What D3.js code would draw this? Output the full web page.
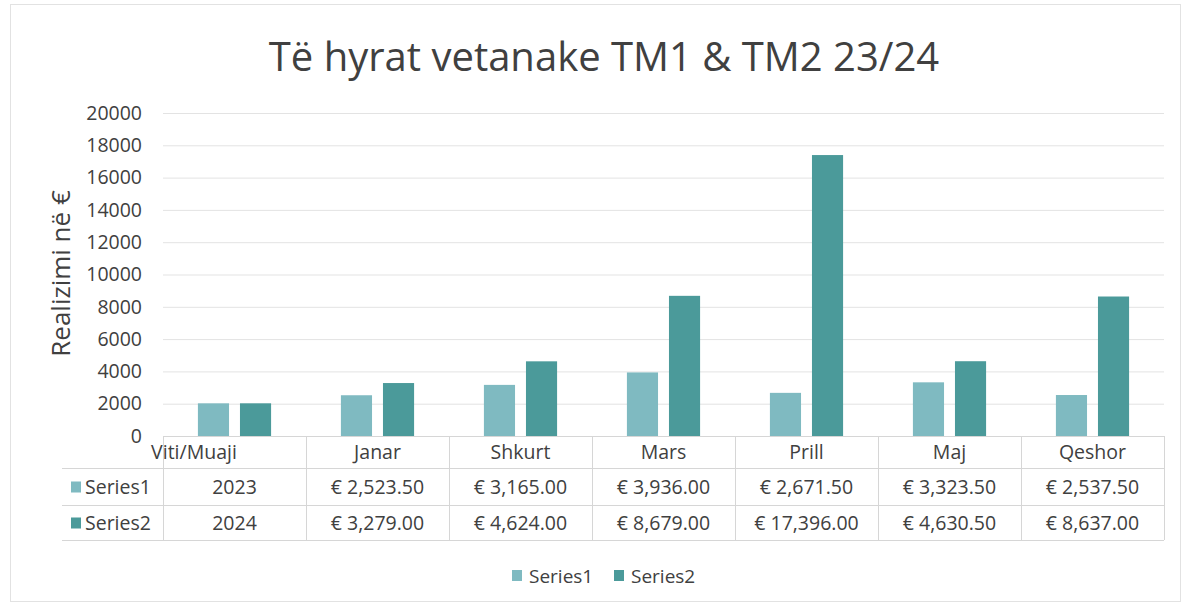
<!DOCTYPE html>
<html><head><meta charset="utf-8">
<script src="https://cdn.jsdelivr.net/npm/d3@7"></script>
<style>body{margin:0;background:#fff}svg{display:block}text{font-family:"Open Sans","Noto Sans",sans-serif;fill:#404040}</style>
</head><body><svg id="c" width="1189" height="609"></svg>
<script>
const categories=["Viti/Muaji","Janar","Shkurt","Mars","Prill","Maj","Qeshor"];
const seriesNames=["Series1","Series2"];
const series1=[2023,2523.5,3165,3936,2671.5,3323.5,2537.5];
const series2=[2024,3279,4624,8679,17396,4630.5,8637];
const tableLabels1=["2023","€ 2,523.50","€ 3,165.00","€ 3,936.00","€ 2,671.50","€ 3,323.50","€ 2,537.50"];
const tableLabels2=["2024","€ 3,279.00","€ 4,624.00","€ 8,679.00","€ 17,396.00","€ 4,630.50","€ 8,637.00"];
const yTicks=[0,2000,4000,6000,8000,10000,12000,14000,16000,18000,20000];
const colors=["#7fbac1","#4b9a9a"];

const svg=d3.select("#c");
const L=163,R=1164,T=113,B=436;
svg.append("rect").attr("x",10.5).attr("y",4.5).attr("width",1170).attr("height",597).attr("fill","none").attr("stroke","#e2e2e2");
const x=d3.scaleBand().domain(categories).range([L,R]);
const y=d3.scaleLinear().domain([0,20000]).range([B,T]);
const x1=d3.scaleBand().domain(seriesNames).range([0,x.bandwidth()]).paddingInner(0.26).paddingOuter(0.83);

svg.append("text").attr("x",604).attr("y",71).attr("text-anchor","middle").attr("font-size",40).text("Të hyrat vetanake TM1 & TM2 23/24");

svg.append("g").selectAll("line").data(yTicks.slice(1)).join("line")
 .attr("x1",L).attr("x2",R).attr("y1",d=>y(d)+0.5).attr("y2",d=>y(d)+0.5).attr("stroke","#e3e3e3");
const ax=d3.axisLeft(y).tickValues(yTicks).tickSize(0).tickPadding(21).tickFormat(d3.format("d"));
const g=svg.append("g").attr("transform",`translate(${L},0)`).call(ax);
g.select(".domain").remove();
g.selectAll("text").attr("font-size",19.5).style("font-family","'Open Sans',sans-serif").attr("fill","#404040");
svg.append("text").attr("transform",`translate(70,${(T+B)/2-1}) rotate(-90)`).attr("text-anchor","middle").attr("font-size",26).text("Realizimi në €");

const data=[series1,series2];
data.forEach((s,si)=>{
 svg.append("g").selectAll("rect").data(s).join("rect")
  .attr("x",(d,i)=>x(categories[i])+x1(seriesNames[si]))
  .attr("width",x1.bandwidth())
  .attr("y",d=>y(d)).attr("height",d=>B-y(d)).attr("fill",colors[si]);
});

// data table
const rowY=[B,468,505,540];
const tc="#d6d6d6";
svg.append("line").attr("x1",L).attr("x2",R).attr("y1",B+0.5).attr("y2",B+0.5).attr("stroke",tc);
[468,505,540].forEach(yy=>svg.append("line").attr("x1",62).attr("x2",R).attr("y1",yy+0.5).attr("y2",yy+0.5).attr("stroke",tc));
categories.forEach(c=>svg.append("line").attr("x1",x(c)+0.5).attr("x2",x(c)+0.5).attr("y1",B).attr("y2",540).attr("stroke",tc));
svg.append("line").attr("x1",R+0.5).attr("x2",R+0.5).attr("y1",B).attr("y2",540).attr("stroke",tc);
svg.append("g").selectAll("text").data(categories).join("text")
 .attr("x",(d,i)=>i===0?194:x(d)+x.bandwidth()/2).attr("y",459).attr("text-anchor","middle").attr("font-size",19.5).text(d=>d);
[tableLabels1,tableLabels2].forEach((lab,si)=>{
 const cy=(rowY[si+1]+rowY[si+2])/2;
 svg.append("g").selectAll("text").data(lab).join("text")
  .attr("x",(d,i)=>x(categories[i])+x.bandwidth()/2).attr("y",cy+7).attr("text-anchor","middle").attr("font-size",19.5).text(d=>d);
 svg.append("rect").attr("x",71).attr("y",cy-5).attr("width",10).attr("height",11).attr("fill",colors[si]);
 svg.append("text").attr("x",85).attr("y",cy+7).attr("font-size",19.5).text(seriesNames[si]);
});

// legend
const lg=svg.append("g");
[["Series1",512],["Series2",614]].forEach(([n,lx],i)=>{
 lg.append("rect").attr("x",lx).attr("y",570).attr("width",10).attr("height",11).attr("fill",colors[i]);
 lg.append("text").attr("x",lx+17).attr("y",583).attr("font-size",19).text(n);
});
</script></body></html>
